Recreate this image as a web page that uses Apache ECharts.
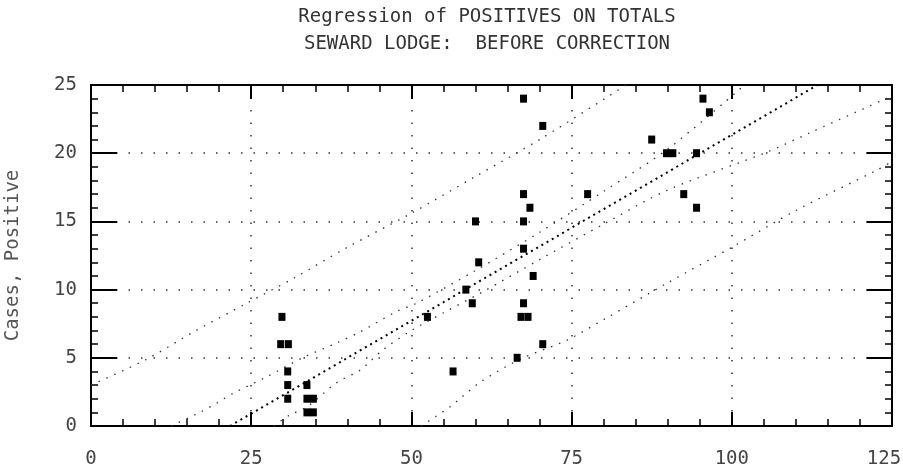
<!DOCTYPE html>
<html>
<head>
<meta charset="utf-8">
<script src="https://cdn.jsdelivr.net/npm/echarts@6/dist/echarts.min.js"></script>
<style>
  html, body { margin: 0; padding: 0; background: #fff; }
  #chart { width: 903px; height: 473px; }
</style>
</head>
<body>
<div id="chart"></div>
<script>
  // totals (x) and positives (y)
  var totals = [29.8, 29.6, 30.8, 30.7, 30.7, 30.7, 33.7, 33.7, 34.7, 33.7, 34.7,
    52.5, 56.5, 58.5, 59.5, 60, 60.5, 66.5, 67.5, 67.5, 68.5, 67.5, 67.5, 69, 67.5,
    67.1, 68.2, 70.5, 70.5, 77.5, 87.5, 89.8, 90.8, 94.5, 92.5, 94.5, 95.5, 96.5];
  var positives = [8, 6, 6, 4, 3, 2, 3, 2, 2, 1, 1,
    8, 4, 10, 9, 15, 12, 5, 24, 17, 16, 15, 13, 11, 9,
    8, 8, 22, 6, 17, 21, 20, 20, 20, 17, 16, 24, 23];

  // fitted line and the dotted bands
  var fitLine = [[21.7, 0], [113.4, 25]];
  var upperPred = [[0, 3.0], [8.7, 4.9], [16, 6.9], [24.3, 9.0], [31.5, 10.8], [40, 13.1],
    [50, 15.6], [60, 18.3], [70, 21.0], [83.5, 25]];
  var lowerPred = [[51.5, 0], [56, 1.4], [60.7, 3.2], [67, 4.9], [74.3, 6.3], [80, 7.8],
    [90, 10.5], [100, 13.1], [110, 15.8], [122.8, 18.8], [125, 19.4]];
  var upperMean = [[12.5, 0], [17, 1.0], [19.7, 1.7], [22.2, 2.4], [27.4, 3.6], [33, 5.0],
    [38.4, 6.1], [42, 6.9], [47.7, 8.4], [50.8, 9.0], [60, 11.4], [70, 14.2], [80, 17.2],
    [90, 20.3], [102, 25]];
  var lowerMean = [[28.5, 0], [31, 0.8], [33.7, 1.4], [38.4, 3.2], [42, 4.1], [45.6, 5.6],
    [50, 7.0], [55, 8.3], [61, 9.8], [70, 12.2], [80, 14.8], [90, 17.3], [105.6, 20.1],
    [112.2, 21.5], [125, 24.2]];

  var xTicks = { min: 0, max: 125, interval: 25 };
  var yTicks = { min: 0, max: 25, interval: 5 };

  var mono = '"DejaVu Sans Mono", "Liberation Mono", monospace';
  var points = totals.map(function (t, i) { return [t, positives[i]]; });

  function bandSeries(data) {
    return {
      type: 'line',
      data: data,
      symbol: 'none',
      smooth: 0.3,
      lineStyle: { color: '#333', width: 1.3, type: [1.5, 7] },
      z: 3
    };
  }

  var axisBlack = { color: '#000', width: 2 };

  var myChart = echarts.init(document.getElementById('chart'));
  myChart.setOption({
    animation: false,
    backgroundColor: '#fff',
    graphic: [
      { type: 'text', x: 487, y: 17,
        style: { text: 'Regression of POSITIVES ON TOTALS', align: 'center', verticalAlign: 'middle',
                 font: '19px ' + mono, fill: '#333' } },
      { type: 'text', x: 487, y: 44,
        style: { text: 'SEWARD LODGE:  BEFORE CORRECTION', align: 'center', verticalAlign: 'middle',
                 font: '19px ' + mono, fill: '#333' } }
    ],
    grid: { left: 91, right: 11, top: 85, bottom: 47, outerBoundsMode: 'none' },
    xAxis: [
      {
        type: 'value', position: 'bottom',
        min: xTicks.min, max: xTicks.max, interval: xTicks.interval,
        axisLine: { show: true, onZero: false, lineStyle: axisBlack },
        axisTick: { show: true, inside: true, length: 14, lineStyle: axisBlack },
        minorTick: { show: true, splitNumber: 5, length: 7, lineStyle: { color: '#000', width: 1.5 } },
        axisLabel: {
          margin: 24, color: '#444', fontFamily: mono, fontSize: 19,
          formatter: function (v) { return v === xTicks.max ? '{last|' + v + '}' : String(v); },
          rich: { last: { fontFamily: mono, fontSize: 19, color: '#444', padding: [0, 16, 0, 0] } }
        },
        splitLine: { show: true, lineStyle: { color: '#333', width: 1.5, type: [1.5, 11] } }
      },
      {
        type: 'value', position: 'top',
        min: xTicks.min, max: xTicks.max, interval: xTicks.interval,
        axisLine: { show: true, onZero: false, lineStyle: axisBlack },
        axisTick: { show: true, inside: true, length: 14, lineStyle: axisBlack },
        minorTick: { show: true, splitNumber: 5, length: 7, lineStyle: { color: '#000', width: 1.5 } },
        axisLabel: { show: false },
        splitLine: { show: false }
      }
    ],
    yAxis: [
      {
        type: 'value', position: 'left',
        min: yTicks.min, max: yTicks.max, interval: yTicks.interval,
        name: 'Cases, Positive', nameLocation: 'middle', nameGap: 68, nameRotate: 90,
        nameTextStyle: { fontFamily: mono, fontSize: 19, color: '#555' },
        axisLine: { show: true, onZero: false, lineStyle: axisBlack },
        axisTick: { show: true, inside: true, length: 26, lineStyle: axisBlack },
        minorTick: { show: true, splitNumber: 5, length: 7, lineStyle: { color: '#000', width: 1.5 } },
        axisLabel: { margin: 14, color: '#444', fontFamily: mono, fontSize: 19 },
        splitLine: { show: true, lineStyle: { color: '#333', width: 1.5, type: [1.5, 11] } }
      },
      {
        type: 'value', position: 'right',
        min: yTicks.min, max: yTicks.max, interval: yTicks.interval,
        axisLine: { show: true, onZero: false, lineStyle: axisBlack },
        axisTick: { show: true, inside: true, length: 25, lineStyle: axisBlack },
        minorTick: { show: true, splitNumber: 5, length: 7, lineStyle: { color: '#000', width: 1.5 } },
        axisLabel: { show: false },
        splitLine: { show: false }
      }
    ],
    series: [
      bandSeries(upperPred),
      bandSeries(lowerPred),
      bandSeries(upperMean),
      bandSeries(lowerMean),
      {
        type: 'line',
        data: fitLine,
        symbol: 'none',
        lineStyle: { color: '#000', width: 2, type: [2, 4] },
        z: 4
      },
      {
        type: 'scatter',
        data: points,
        symbol: 'rect',
        symbolSize: [7, 8],
        itemStyle: { color: '#000', opacity: 1 },
        z: 5
      }
    ]
  });
</script>
</body>
</html>
